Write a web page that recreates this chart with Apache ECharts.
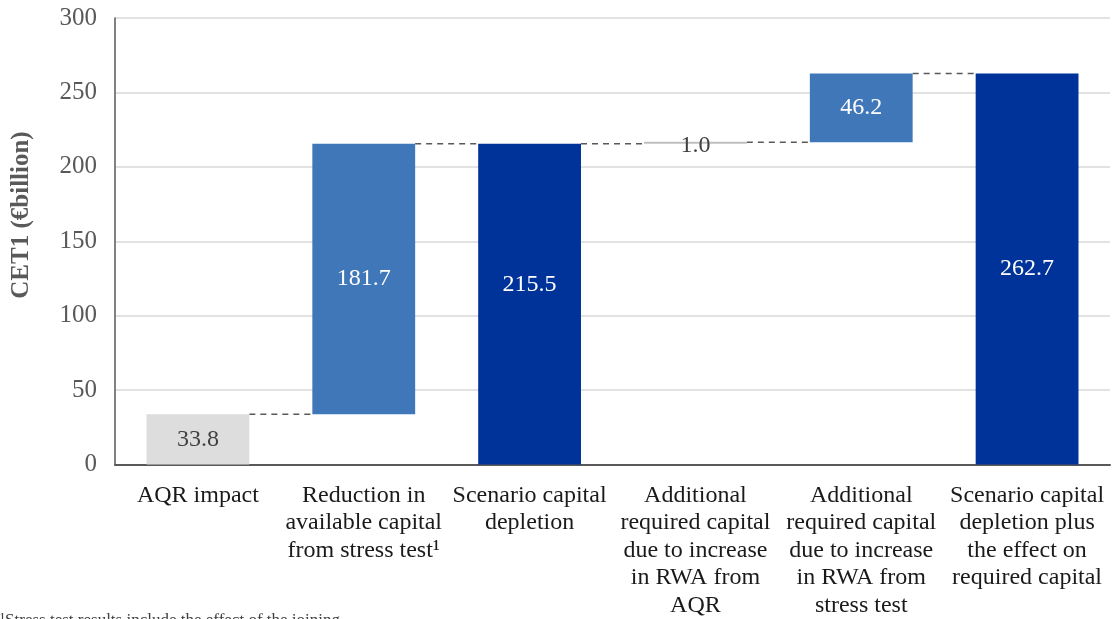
<!DOCTYPE html>
<html>
<head>
<meta charset="utf-8">
<script src="https://cdn.jsdelivr.net/npm/echarts@6/dist/echarts.min.js"></script>
<style>
  html, body { margin: 0; padding: 0; background: #fff; }
  #chart { width: 1113px; height: 619px; }
</style>
</head>
<body>
<div id="chart"></div>
<script>
// categories along the x axis
const categories = [
  'AQR impact',
  'Reduction in\navailable capital\nfrom stress test\u00b9',
  'Scenario capital\ndepletion',
  'Additional\nrequired capital\ndue to increase\nin RWA from\nAQR',
  'Additional\nrequired capital\ndue to increase\nin RWA from\nstress test',
  'Scenario capital\ndepletion plus\nthe effect on\nrequired capital'
];
// visible bar sizes (labels)
const values = [33.8, 181.7, 215.5, 1.0, 46.2, 262.7];
// invisible base each bar floats on
const bases = [0, 33.8, 0, 215.5, 216.5, 0];
// level of the dashed connector leaving each bar
const links = [33.8, 215.5, 215.5, 216.5, 262.7];
const yTicks = [0, 50, 100, 150, 200, 250, 300];

const barColors = ['#DDDDDD', '#3F77B9', '#003399', '#BFBFBF', '#3F77B9', '#003399'];
const labelColors = ['#404040', '#ffffff', '#ffffff', '#404040', '#ffffff', '#ffffff'];
const labelShift = { 2: [0, -19], 3: [0, 3] };
const serif = '"Liberation Serif", "Times New Roman", serif';
const BAR_FRAC = 0.62;

const chart = echarts.init(document.getElementById('chart'));

chart.setOption({
  animation: false,
  grid: { left: 115, right: 3, top: 18, bottom: 154 },
  xAxis: {
    type: 'category',
    data: categories,
    axisLine: { lineStyle: { color: '#595959', width: 2 } },
    axisTick: { show: false },
    axisLabel: {
      interval: 0,
      margin: 17,
      color: '#1a1a1a',
      fontFamily: serif,
      fontSize: 24,
      lineHeight: 27.5
    }
  },
  yAxis: {
    type: 'value',
    min: yTicks[0],
    max: yTicks[yTicks.length - 1],
    interval: 50,
    axisLine: { show: true, lineStyle: { color: '#595959', width: 1.5 } },
    axisTick: { show: false },
    splitLine: { lineStyle: { color: '#D9D9D9', width: 1.5 } },
    axisLabel: { margin: 18, color: '#595959', fontFamily: serif, fontSize: 25 }
  },
  series: [
    {
      type: 'bar',
      stack: 'w',
      barWidth: (BAR_FRAC * 100) + '%',
      itemStyle: { color: 'transparent' },
      data: bases,
      silent: true
    },
    {
      type: 'bar',
      stack: 'w',
      barMinHeight: 2,
      data: values.map((v, i) => ({
        value: v,
        itemStyle: { color: barColors[i] },
        label: { color: labelColors[i], offset: labelShift[i] || [0, 0] }
      })),
      label: {
        show: true,
        position: 'inside',
        fontFamily: serif,
        fontSize: 24,
        formatter: p => p.value.toFixed(1)
      },
      z: 3
    },
    {
      type: 'custom',
      data: links.map((v, i) => [i, v]),
      renderItem: (params, api) => {
        const i = api.value(0);
        const p0 = api.coord([i, api.value(1)]);
        const p1 = api.coord([i + 1, api.value(1)]);
        const half = api.size([1, 0])[0] * BAR_FRAC / 2;
        return {
          type: 'line',
          shape: { x1: p0[0] + half, y1: p0[1], x2: p1[0] - half, y2: p1[1] },
          style: { stroke: '#595959', lineWidth: 1.5, lineDash: [6, 5] }
        };
      },
      z: 2,
      silent: true
    }
  ],
  graphic: [
    {
      type: 'text',
      x: 22,
      y: 215,
      rotation: Math.PI / 2,
      style: {
        text: 'CET1 (\u20acbillion)',
        font: 'bold 25px ' + serif,
        fill: '#595959',
        align: 'center',
        verticalAlign: 'middle'
      }
    },
    {
      type: 'text',
      left: 0,
      top: 612,
      style: {
        text: '\u00b9Stress test results include the effect of the joining',
        font: '17px ' + serif,
        fill: '#404040'
      }
    }
  ]
});
</script>
</body>
</html>
